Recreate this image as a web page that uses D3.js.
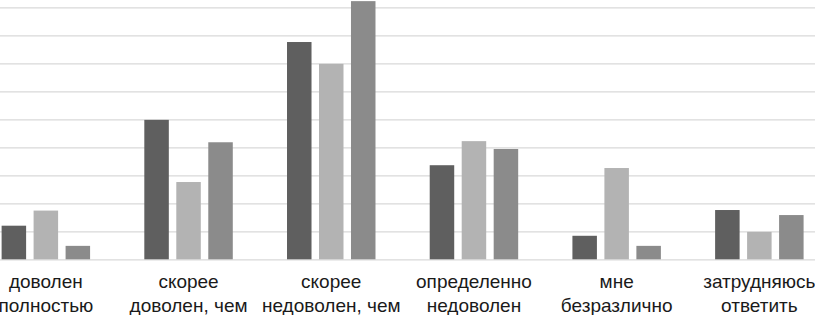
<!DOCTYPE html>
<html>
<head>
<meta charset="utf-8">
<script src="https://cdn.jsdelivr.net/npm/d3@7"></script>
<style>
  body { margin: 0; background: #fff; }
  svg { display: block; }
  .grid line { stroke: #d9d9d9; stroke-width: 1.3; }
  .grid path { display: none; }
  .grid text { display: none; }
  .label { font-family: "Liberation Sans", Arial, sans-serif; font-size: 19px; fill: #1a1a1a; }
</style>
</head>
<body>
<svg id="chart" width="815" height="315"></svg>
<script>
// answer categories (two-line labels)
const categories = [
	['доволен', 'полностью'],
	['скорее', 'доволен, чем'],
	['скорее', 'недоволен, чем'],
	['определенно', 'недоволен'],
	['мне', 'безразлично'],
	['затрудняюсь', 'ответить']
];
const seriesNames = ['s1', 's2', 's3'];
const seriesColors = ['#5f5f5f', '#b3b3b3', '#8b8b8b'];

// shares, %
const s1 = [6.0, 24.9, 38.8, 16.8, 4.2, 8.8];
const s2 = [8.7, 13.8, 34.9, 21.1, 16.3, 4.9];
const s3 = [2.4, 20.9, 46.1, 19.7, 2.4, 7.9];
const gridTicks = [0, 5, 10, 15, 20, 25, 30, 35, 40, 45];

const values = [s1, s2, s3];
const width = 815;

let svg = d3.select('#chart');

let x = d3.scaleBand()
	.domain(d3.range(categories.length))
	.range([-25.5, 830.7])
	.paddingInner(0.38)
	.paddingOuter(0.19);

let xSub = d3.scaleBand()
	.domain(seriesNames)
	.range([0, x.bandwidth()])
	.paddingInner(0.234);

let y = d3.scaleLinear()
	.domain([0, 50])
	.range([259.3, -20.7]);

// gridlines
svg.append('g')
	.attr('class', 'grid')
	.call(d3.axisLeft(y).tickValues(gridTicks).tickSize(-width).tickFormat(''));

// bars
let groups = svg.selectAll('g.cat')
	.data(categories)
	.enter()
	.append('g')
	.attr('class', 'cat')
	.attr('transform', function(d, i) { return 'translate(' + x(i) + ',0)'; });

groups.selectAll('rect')
	.data(function(d, i) {
		return seriesNames.map(function(s, k) {
			return { series: s, k: k, value: values[k][i] };
		});
	})
	.enter()
	.append('rect')
	.attr('x', function(d) { return xSub(d.series); })
	.attr('width', xSub.bandwidth())
	.attr('y', function(d) { return y(d.value); })
	.attr('height', function(d) { return y(0) - y(d.value); })
	.attr('fill', function(d) { return seriesColors[d.k]; });

// category labels
let labels = groups.append('text')
	.attr('class', 'label')
	.attr('text-anchor', 'middle')
	.attr('x', x.bandwidth() / 2);

labels.selectAll('tspan')
	.data(function(d) { return d; })
	.enter()
	.append('tspan')
	.attr('x', x.bandwidth() / 2)
	.attr('y', function(d, j) { return 288.3 + j * 23.4; })
	.text(function(d) { return d; });
</script>
</body>
</html>
